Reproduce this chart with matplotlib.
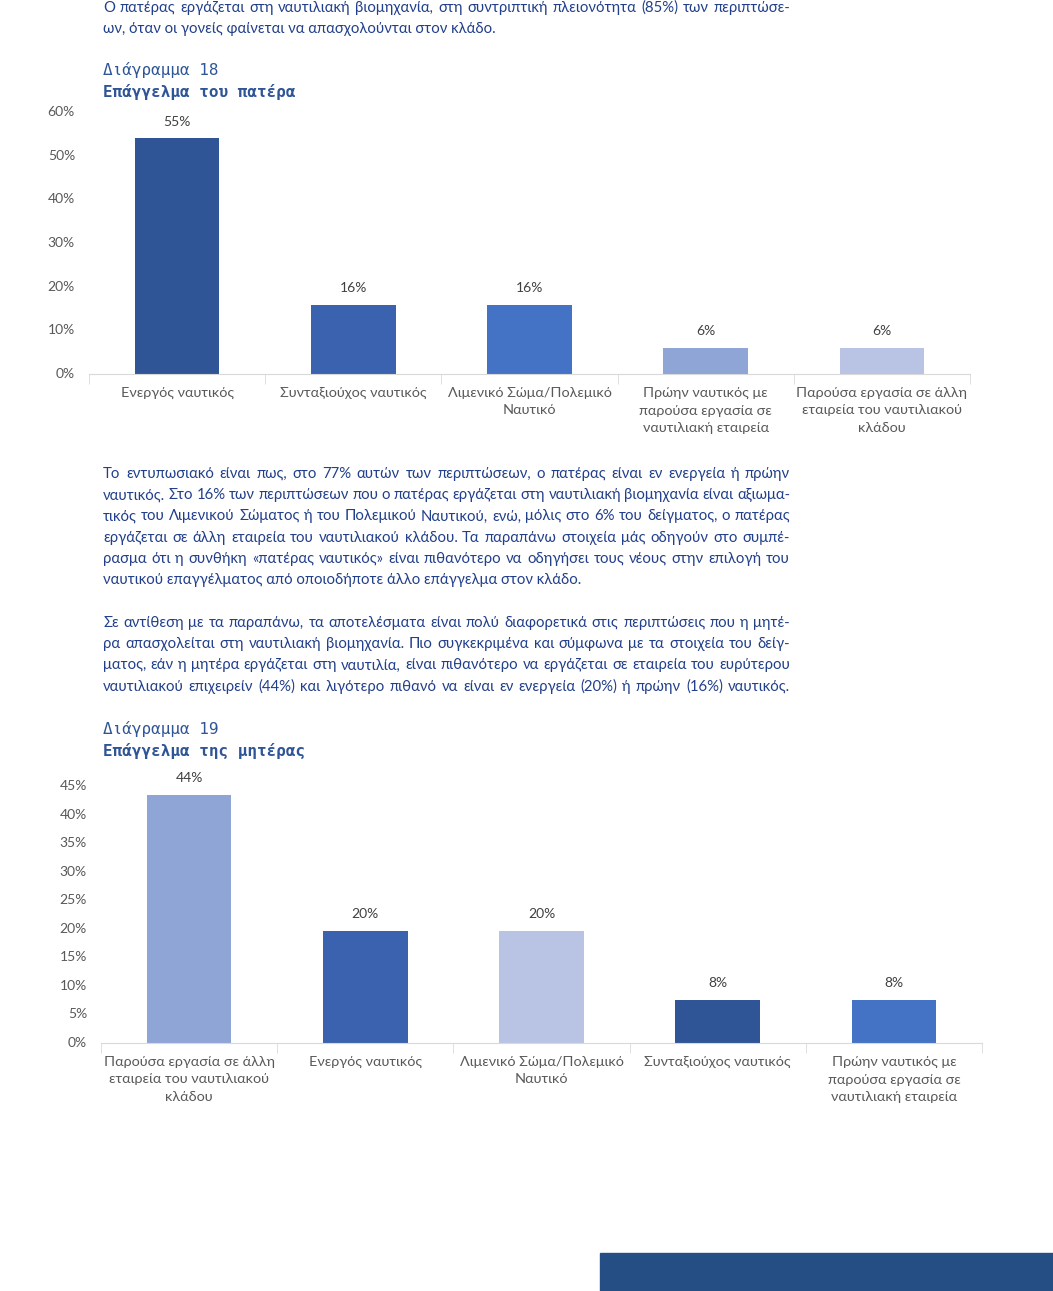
import matplotlib
matplotlib.use("Agg")
import matplotlib.pyplot as plt
from matplotlib.patches import Rectangle

W, H = 1053, 1291

# Διάγραμμα 18 - πατέρας
father_cats = ["Ενεργός ναυτικός", "Συνταξιούχος ναυτικός", "Λιμενικό Σώμα/Πολεμικό\nΝαυτικό",
               "Πρώην ναυτικός με\nπαρούσα εργασία σε\nναυτιλιακή εταιρεία",
               "Παρούσα εργασία σε άλλη\nεταιρεία του ναυτιλιακού\nκλάδου"]
father_vals = [0.54, 0.158, 0.158, 0.06, 0.06]
father_labels = ["55%", "16%", "16%", "6%", "6%"]
father_colors = ["#2F5597", "#3A62AE", "#4472C4", "#8FA5D6", "#B9C4E4"]
father_ticks = [0, 0.1, 0.2, 0.3, 0.4, 0.5, 0.6]

# Διάγραμμα 19 - μητέρα
mother_cats = ["Παρούσα εργασία σε άλλη\nεταιρεία του ναυτιλιακού\nκλάδου", "Ενεργός ναυτικός",
               "Λιμενικό Σώμα/Πολεμικό\nΝαυτικό", "Συνταξιούχος ναυτικός",
               "Πρώην ναυτικός με\nπαρούσα εργασία σε\nναυτιλιακή εταιρεία"]
mother_vals = [0.435, 0.196, 0.196, 0.076, 0.076]
mother_labels = ["44%", "20%", "20%", "8%", "8%"]
mother_colors = ["#8FA5D6", "#3A62AE", "#B9C4E4", "#2F5597", "#4472C4"]
mother_ticks = [0, 0.05, 0.1, 0.15, 0.2, 0.25, 0.3, 0.35, 0.4, 0.45]

intro = ["Ο πατέρας εργάζεται στη ναυτιλιακή βιομηχανία, στη συντριπτική πλειονότητα (85%) των περιπτώσε-",
         "ων, όταν οι γονείς φαίνεται να απασχολούνται στον κλάδο."]
para1 = ["Το εντυπωσιακό είναι πως, στο 77% αυτών των περιπτώσεων, ο πατέρας είναι εν ενεργεία ή πρώην",
         "ναυτικός. Στο 16% των περιπτώσεων που ο πατέρας εργάζεται στη ναυτιλιακή βιομηχανία είναι αξιωμα-",
         "τικός του Λιμενικού Σώματος ή του Πολεμικού Ναυτικού, ενώ, μόλις στο 6% του δείγματος, ο πατέρας",
         "εργάζεται σε άλλη εταιρεία του ναυτιλιακού κλάδου. Τα παραπάνω στοιχεία μάς οδηγούν στο συμπέ-",
         "ρασμα ότι η συνθήκη «πατέρας ναυτικός» είναι πιθανότερο να οδηγήσει τους νέους στην επιλογή του",
         "ναυτικού επαγγέλματος από οποιοδήποτε άλλο επάγγελμα στον κλάδο."]
para2 = ["Σε αντίθεση με τα παραπάνω, τα αποτελέσματα είναι πολύ διαφορετικά στις περιπτώσεις που η μητέ-",
         "ρα απασχολείται στη ναυτιλιακή βιομηχανία. Πιο συγκεκριμένα και σύμφωνα με τα στοιχεία του δείγ-",
         "ματος, εάν η μητέρα εργάζεται στη ναυτιλία, είναι πιθανότερο να εργάζεται σε εταιρεία του ευρύτερου",
         "ναυτιλιακού επιχειρείν (44%) και λιγότερο πιθανό να είναι εν ενεργεία (20%) ή πρώην (16%) ναυτικός."]

TEXT_COL = "#213F8A"
CAP_COL = "#2F5597"
GREY = "#595959"
BODY_KW = dict(fontsize=10.7, family="Lato", color=TEXT_COL, va="center", ha="left")

fig = plt.figure(figsize=(W / 100, H / 100), dpi=100)
renderer = fig.canvas.get_renderer()


def fy(ypx):
    return 1 - ypx / H


def text_width(s):
    t = fig.text(0, 0, s, **BODY_KW)
    w = t.get_window_extent(renderer).width
    t.remove()
    return w


def body(lines, y0, step=21.2, justify_last=False, x0=103, x1=790):
    # justified paragraph, the last line left aligned
    for i, s in enumerate(lines):
        y = fy(y0 + i * step)
        if i == len(lines) - 1 and not justify_last:
            fig.text(x0 / W, y, s, **BODY_KW)
            continue
        words = s.split(" ")
        widths = [text_width(w) for w in words]
        gap = (x1 - x0 - sum(widths)) / (len(words) - 1)
        x = x0
        for w, wd in zip(words, widths):
            fig.text(x / W, y, w, **BODY_KW)
            x += wd + gap


def bar_chart(rect, cats, vals, labels, colors, ticks, ymax, tick_x):
    left, top, right, bottom = rect
    ax = fig.add_axes([left / W, fy(bottom), (right - left) / W, (bottom - top) / H])
    x = range(len(cats))
    bars = ax.bar(x, vals, width=0.48, color=colors)
    for b, v, lab in zip(bars, vals, labels):
        ax.annotate(lab, (b.get_x() + b.get_width() / 2, v),
                    xytext=(0, 12), textcoords="offset points", ha="center", va="center",
                    fontsize=10, family="Lato", color="#404040")
    ax.set_xlim(-0.5, len(cats) - 0.5)
    ax.set_ylim(0, ymax)
    for s in ["top", "right", "left"]:
        ax.spines[s].set_visible(False)
    ax.spines["bottom"].set_color("#D9D9D9")
    ax.set_xticks(list(x))
    ax.set_xticklabels(cats, fontsize=10.4, family="Lato", color=GREY, linespacing=1.52)
    ax.tick_params(axis="x", which="major", length=0, pad=9.5)
    ax.set_xticks([i - 0.5 for i in range(len(cats) + 1)], minor=True)
    ax.tick_params(axis="x", which="minor", length=7, color="#D9D9D9")
    ax.set_yticks(ticks)
    ax.set_yticklabels([])
    ax.tick_params(axis="y", length=0)
    for t in ticks:
        ypx = bottom - (bottom - top) * t / ymax
        fig.text(tick_x / W, fy(ypx), f"{t * 100:.0f}%", fontsize=10, family="Lato",
                 color=GREY, ha="right", va="center")
    return ax


body(intro, 8, 20.5)

fig.text(103 / W, fy(70), "Διάγραμμα 18", fontsize=11.5, family="DejaVu Sans Mono",
         color=CAP_COL, va="center")
fig.text(103 / W, fy(92), "Επάγγελμα του πατέρα", fontsize=11.5, family="DejaVu Sans Mono",
         fontweight="bold", color=CAP_COL, va="center")

bar_chart((89, 112, 970, 374), father_cats, father_vals, father_labels, father_colors,
          father_ticks, 0.6, 75)

body(para1, 474)
body(para2, 623, justify_last=True)

fig.text(103 / W, fy(729), "Διάγραμμα 19", fontsize=11.5, family="DejaVu Sans Mono",
         color=CAP_COL, va="center")
fig.text(103 / W, fy(751), "Επάγγελμα της μητέρας", fontsize=11.5, family="DejaVu Sans Mono",
         fontweight="bold", color=CAP_COL, va="center")

bar_chart((101, 786, 982, 1043), mother_cats, mother_vals, mother_labels, mother_colors,
          mother_ticks, 0.45, 87)

fig.patches.append(Rectangle((600 / W, 0), 1 - 600 / W, 38 / H, transform=fig.transFigure,
                             color="#254E85", zorder=0))

fig.savefig("out.png", dpi=100)
